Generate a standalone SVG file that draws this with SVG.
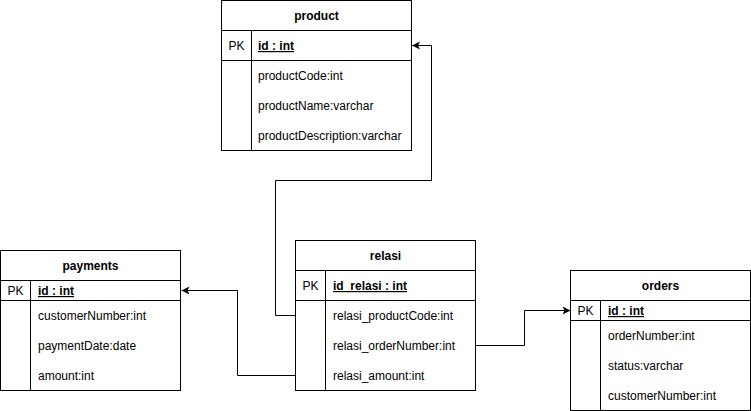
<svg xmlns="http://www.w3.org/2000/svg" width="751" height="411" viewBox="0 0 751 411">
<defs>
<style>
.box{fill:#fff;stroke:#000;stroke-width:1}
.ln{stroke:#000;stroke-width:1;fill:none}
text{font-family:"Liberation Sans",Arial,sans-serif;font-size:12px;fill:#000}
.t{font-weight:bold;text-anchor:middle}
.pk{text-anchor:middle}
.id{font-weight:bold;text-decoration:underline}
.edge{stroke:#000;stroke-width:1;fill:none;marker-end:url(#arr)}
</style>
<marker id="arr" markerUnits="userSpaceOnUse" markerWidth="10" markerHeight="10" refX="8" refY="4" orient="auto">
<path d="M0,0 L8,4 L0,8 L2,4 z" fill="#000"/>
</marker>
</defs>
<rect width="751" height="411" fill="#fff"/>
<g id="connectors">
<path class="edge" d="M295.5,315.5 H275.5 V180.5 H431.5 V45.5 H412"/>
<path class="edge" d="M295.5,375.5 H237.5 V290.5 H181.5"/>
<path class="edge" d="M475.5,345.5 H524.5 V310.5 H570.5"/>
</g>
<g id="product">
<rect class="box" x="221.5" y="0.5" width="190" height="150"/>
<path class="ln" d="M221.5,30.5 H411.5 M221.5,60.5 H411.5 M251.5,30.5 V150.5"/>
<text class="t" x="316.5" y="20">product</text>
<text class="pk" x="236.5" y="50">PK</text>
<text class="id" x="258" y="50">id : int</text>
<text x="258" y="80">productCode:int</text>
<text x="258" y="110">productName:varchar</text>
<text x="258" y="140">productDescription:varchar</text>
</g>
<g id="payments">
<rect class="box" x="0.5" y="250.5" width="180" height="140"/>
<path class="ln" d="M0.5,280.5 H180.5 M0.5,300.5 H180.5 M30.5,280.5 V390.5"/>
<text class="t" x="90.5" y="270">payments</text>
<text class="pk" x="15.5" y="295">PK</text>
<text class="id" x="38" y="295">id : int</text>
<text x="38" y="320">customerNumber:int</text>
<text x="38" y="350">paymentDate:date</text>
<text x="38" y="380">amount:int</text>
</g>
<g id="relasi">
<rect class="box" x="295.5" y="240.5" width="180" height="150"/>
<path class="ln" d="M295.5,270.5 H475.5 M295.5,300.5 H475.5 M325.5,270.5 V390.5"/>
<text class="t" x="385.5" y="260">relasi</text>
<text class="pk" x="310.5" y="290">PK</text>
<text class="id" x="333" y="290">id_relasi : int</text>
<text x="333" y="320">relasi_productCode:int</text>
<text x="333" y="350">relasi_orderNumber:int</text>
<text x="333" y="380">relasi_amount:int</text>
</g>
<g id="orders">
<rect class="box" x="570.5" y="270.5" width="180" height="140"/>
<path class="ln" d="M570.5,300.5 H750.5 M570.5,320.5 H750.5 M600.5,300.5 V410.5"/>
<text class="t" x="660.5" y="290">orders</text>
<text class="pk" x="585.5" y="315">PK</text>
<text class="id" x="608" y="315">id : int</text>
<text x="608" y="340">orderNumber:int</text>
<text x="608" y="370">status:varchar</text>
<text x="608" y="400">customerNumber:int</text>
</g>
</svg>
